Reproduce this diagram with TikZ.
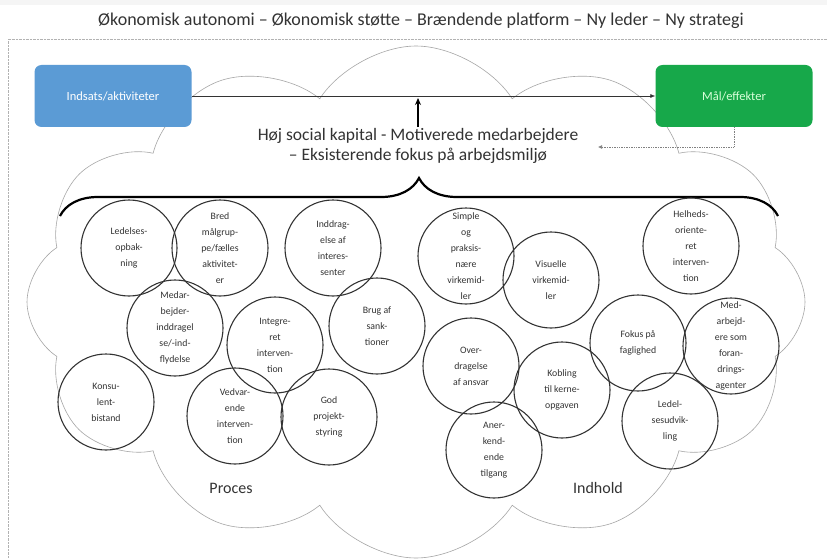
\documentclass[tikz,border=0pt]{standalone}
\usepackage{fontspec}
\setmainfont{Carlito}
\usetikzlibrary{shapes.symbols,decorations.pathreplacing,arrows.meta}
\definecolor{boxblue}{HTML}{5B9BD5}
\definecolor{boxgreen}{HTML}{17A84A}
\definecolor{inkgray}{HTML}{333333}
\tikzset{
  idea/.style={circle, draw=inkgray, line width=1.1pt, minimum size=96pt, inner sep=0pt},
  idealbl/.style={align=center, text=inkgray, font=\fontsize{9.8}{16}\selectfont},
  flowbox/.style={rounded corners=7pt, minimum width=157pt, minimum height=62pt, text=white, font=\fontsize{12.5}{14}\selectfont}
}
\begin{document}
\begin{tikzpicture}[x=1pt, y=-1pt]
  \useasboundingbox (0,0) rectangle (827,559);
  \fill[white] (0,0) rectangle (827,559);
  \fill[gray!8] (0,0) rectangle (827,5);
  \draw[densely dotted, gray!60] (8,559) -- (8,39) -- (827,39);
  \node[font=\fontsize{18}{20}\selectfont, text=inkgray] (title) at (421,21)
    {Økonomisk autonomi – Økonomisk støtte – Brændende platform – Ny leder – Ny strategi};
  % the cloud behind everything
  \node[cloud, cloud puffs=12, cloud puff arc=115, cloud ignores aspect, draw=gray!70, line width=0.6pt,
    minimum width=778pt, minimum height=512pt] (sky) at (416,302) {};
  \node[flowbox, fill=boxblue] (inbox) at (113,96) {Indsats/aktiviteter};
  \node[flowbox, fill=boxgreen, text=green!15] (outbox) at (734,96) {Mål/effekter};
  \draw[-{Latex[length=5pt,width=4pt]}, inkgray, line width=0.6pt] (inbox.east) -- (outbox.west);
  \node[align=center, text=inkgray, font=\fontsize{17.5}{20}\selectfont, inner sep=1pt] (kapital) at (418,146)
    {Høj social kapital - Motiverede medarbejdere\\– Eksisterende fokus på arbejdsmiljø};
  \coordinate (hit) at (418,98);
  \draw[-{Stealth[length=7pt,width=6pt]}, line width=1.8pt] (kapital.north) -- (hit);
  \coordinate (back) at (598,147);
  \draw[densely dotted, gray, line width=0.7pt, -{Latex[length=4pt,width=4pt]}] (outbox.south) |- (back);
  \draw[decorate, decoration={brace, amplitude=38pt}, line width=2.2pt] (60,216) -- (778,216);
  \foreach \n/\cx/\cy/\txt in {
    c1/129/248/{Ledelses-\\opbak-\\ning},
    c2/220/248/{Bred\\målgrup-\\pe/fælles\\aktivitet-\\er},
    c3/333/248/{Inddrag-\\else af\\interes-\\senter},
    c4/175/328/{Medar-\\bejder-\\inddragel\\se/-ind-\\flydelse},
    c5/275/345/{Integre-\\ret\\interven-\\tion},
    c6/377/326/{Brug af\\sank-\\tioner},
    c7/106/402/{Konsu-\\lent-\\bistand},
    c8/235/416/{Vedvar-\\ende\\interven-\\tion},
    c9/329/417/{God\\projekt-\\styring},
    c10/466/256/{Simple\\og\\praksis-\\nære\\virkemid-\\ler},
    c11/551/280/{Visuelle\\virkemid-\\ler},
    c12/471/366/{Over-\\dragelse\\af ansvar},
    c13/562/390/{Kobling\\til kerne-\\opgaven},
    c14/494/450/{Aner-\\kend-\\ende\\tilgang},
    c15/691/246/{Helheds-\\oriente-\\ret\\interven-\\tion},
    c16/638/343/{Fokus på\\faglighed},
    c17/731/346/{Med-\\arbejd-\\ere som\\foran-\\drings-\\agenter},
    c18/670/421/{Ledel-\\sesudvik-\\ling}} {
    \node[idea, label={[idealbl]center:\txt}] (\n) at (\cx,\cy) {};
  }
  \node[font=\fontsize{16}{18}\selectfont, text=inkgray] (proces) at (231,488) {Proces};
  \node[font=\fontsize{16}{18}\selectfont, text=inkgray] (indhold) at (598,488) {Indhold};
\end{tikzpicture}
\end{document}
